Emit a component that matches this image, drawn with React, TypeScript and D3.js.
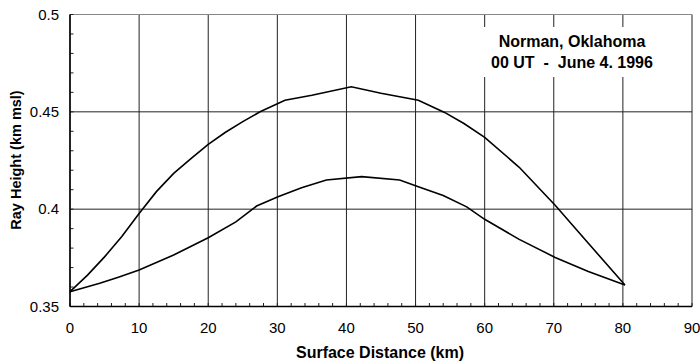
import React from "react";
import * as d3 from "d3";

const xTicks = [0, 10, 20, 30, 40, 50, 60, 70, 80, 90];
const yTicks = [0.35, 0.4, 0.45, 0.5];
const yTickLabels = ["0.35", "0.4", "0.45", "0.5"];

const upperX = [0, 2.5, 5, 7.5, 10, 12.5, 15, 17.5, 20, 22.5, 25, 27.5, 31.1, 35, 40.7, 45, 50.4, 54.2, 57, 60, 65, 70.2, 75, 80.3];
const upperY = [0.3576, 0.366, 0.3755, 0.386, 0.3978, 0.409, 0.4184, 0.426, 0.4333, 0.4395, 0.445, 0.45, 0.456, 0.4585, 0.4629, 0.4595, 0.456, 0.4497, 0.444, 0.4369, 0.4215, 0.402, 0.3825, 0.361];

const lowerX = [0, 4.3, 7, 10, 15, 20, 24, 27, 30.1, 33.5, 37.1, 42.2, 47.7, 50.1, 54, 57.4, 60, 65, 70.2, 75, 80.3];
const lowerY = [0.3576, 0.3619, 0.365, 0.3687, 0.3765, 0.3853, 0.3935, 0.4016, 0.4064, 0.411, 0.415, 0.4167, 0.415, 0.4119, 0.407, 0.4012, 0.3948, 0.3845, 0.3752, 0.368, 0.361];

const titleLines = ["Norman, Oklahoma", "00 UT  -  June 4. 1996"];

export default function App() {
  const W = 700, H = 362;
  const left = 70, right = 692, top = 14.5, bottom = 306.5;
  const x = d3.scaleLinear().domain([0, 90]).range([left, right]);
  const y = d3.scaleLinear().domain([0.35, 0.5]).range([bottom, top]);
  const mk = (xs: number[], ys: number[]) =>
    d3.line<number>().x((d) => x(d)).y((_, i) => y(ys[i]))(xs) || "";
  const minorX = d3.range(0, 90.001, 2);
  const minorY = d3.range(0.35, 0.5001, 0.01);
  const font = "Liberation Sans, Arial, Helvetica, sans-serif";
  return (
    <svg width={W} height={H} style={{ position: "absolute", left: 0, top: 0, background: "#fff" }} fontFamily={font}>
      <rect width={W} height={H} fill="#fff" />
      {xTicks.map((t) => (
        <line key={"vx" + t} x1={x(t)} x2={x(t)} y1={top} y2={bottom} stroke="#222" strokeWidth={1} />
      ))}
      {yTicks.map((t) => (
        <line key={"hy" + t} x1={left} x2={right} y1={y(t)} y2={y(t)} stroke={t === 0.5 ? "#888" : "#222"} strokeWidth={1} />
      ))}
      {minorX.map((t) => (
        <line key={"mx" + t} x1={x(t)} x2={x(t)} y1={bottom} y2={bottom - 3.5} stroke="#222" strokeWidth={1} />
      ))}
      {minorY.map((t) => (
        <line key={"my" + t} x1={left} x2={left + 3.5} y1={y(t)} y2={y(t)} stroke="#222" strokeWidth={1} />
      ))}
      <line x1={left} x2={left} y1={top} y2={bottom} stroke="#000" strokeWidth={1.5} />
      <line x1={left} x2={right} y1={bottom} y2={bottom} stroke="#000" strokeWidth={1.5} />
      <rect x={478} y={27} width={210} height={50} fill="#fff" />
      {titleLines.map((s, i) => (
        <text key={s} x={572} y={47 + i * 21} textAnchor="middle" fontSize={16} fontWeight="bold" fill="#000" style={{ whiteSpace: "pre" }}>{s}</text>
      ))}
      <path d={mk(upperX, upperY)} fill="none" stroke="#000" strokeWidth={1.6} />
      <path d={mk(lowerX, lowerY)} fill="none" stroke="#000" strokeWidth={1.6} />
      {xTicks.map((t) => (
        <text key={"xl" + t} x={x(t)} y={333} textAnchor="middle" fontSize={15} fill="#000">{t}</text>
      ))}
      {yTicks.map((t, i) => (
        <text key={"yl" + t} x={59} y={y(t) + 5} textAnchor="end" fontSize={15} fill="#000">{yTickLabels[i]}</text>
      ))}
      <text x={380} y={358} textAnchor="middle" fontSize={16} fontWeight="bold">Surface Distance (km)</text>
      <text transform={`translate(20.5,160) rotate(-90)`} textAnchor="middle" fontSize={14.5} fontWeight="bold">Ray Height (km msl)</text>
    </svg>
  );
}
